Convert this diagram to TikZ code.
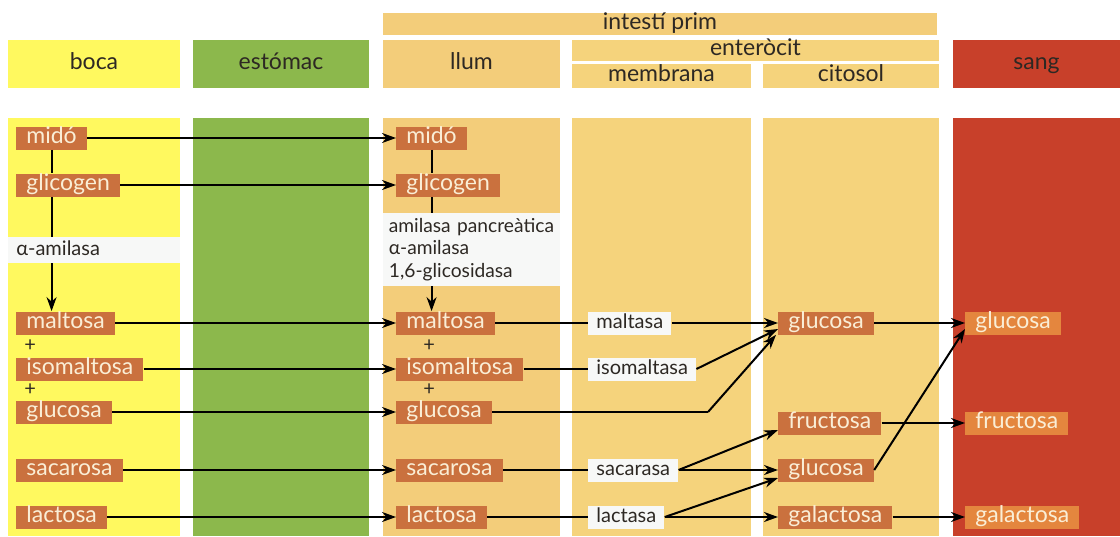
\documentclass[tikz,border=0pt]{standalone}
\usepackage{fontspec}
\setmainfont{Lato}
\usetikzlibrary{arrows.meta, positioning, calc}

\definecolor{bocacol}{RGB}{255,249,95}
\definecolor{estcol}{RGB}{140,184,76}
\definecolor{llumcol}{RGB}{243,205,122}
\definecolor{entcol}{RGB}{245,211,124}
\definecolor{sangcol}{RGB}{200,64,42}
\definecolor{boxcol}{RGB}{202,113,62}
\definecolor{sangbox}{RGB}{228,134,62}
\definecolor{boxtext}{RGB}{250,238,214}
\definecolor{hdrtext}{RGB}{45,40,35}
\definecolor{stripcol}{RGB}{247,248,247}

\begin{document}
\begin{tikzpicture}[
    x=0.5pt, y=-0.5pt,
    hdr/.style={rectangle, inner sep=0pt, text=hdrtext, text height=8pt, text depth=2.5pt,
        font=\fontsize{11.5}{13}\selectfont},
    sugar/.style={rectangle, fill=boxcol, text=boxtext, anchor=west, inner xsep=5pt, inner ysep=0pt,
        minimum height=11.5pt, text height=8pt, text depth=2.5pt, font=\fontsize{11.5}{13}\selectfont},
    enz/.style={rectangle, fill=stripcol, text=hdrtext, anchor=west, inner xsep=4pt, inner ysep=0pt,
        minimum height=11.5pt, text height=7pt, text depth=2pt, font=\fontsize{10}{12}\selectfont},
    arrow/.style={-{Stealth[length=7pt,width=5pt]}, line width=1pt},
    link/.style={line width=1pt}
]
\useasboundingbox (0,0) rectangle (1120,536);
\fill[white] (0,0) rectangle (1120,536);

% Columns
\fill[bocacol] (8,118) rectangle (180,536);
\fill[estcol] (193,118) rectangle (369,536);
\fill[llumcol] (383,118) rectangle (560,536);
\fill[entcol] (572,118) rectangle (751,536);
\fill[entcol] (763,118) rectangle (939,536);
\fill[sangcol] (953,118) rectangle (1120,536);

% Headers
\node[hdr, fill=llumcol, minimum width=277pt, minimum height=11pt] (intes) at (660,24) {intestí prim};
\node[hdr, fill=bocacol, minimum width=86pt, minimum height=24pt] (boca) at (94,64) {boca};
\node[hdr, fill=estcol, minimum width=88pt, minimum height=24pt] (estom) at (281,64) {estómac};
\node[hdr, fill=llumcol, minimum width=88.5pt, minimum height=24pt] (llum) at (471.5,64) {llum};
\node[hdr, fill=entcol, minimum width=183.5pt, minimum height=10pt] (enter) at (755.5,50) {enteròcit};
\node[hdr, fill=entcol, minimum width=89.5pt, minimum height=12pt] (membr) at (661.5,76) {membrana};
\node[hdr, fill=entcol, minimum width=88pt, minimum height=12pt] (citos) at (851,76) {citosol};
\node[hdr, fill=sangcol, minimum width=83.5pt, minimum height=24pt] (sang) at (1036.5,64) {sang};

% boca
\node[sugar] (bmido) at (16,138) {midó};
\node[sugar] (bglic) at (16,185) {glicogen};
\node[enz, text width=78pt, minimum height=13pt] (bamil) at (8,250) {α-amilasa};
\node[sugar] (bmalt) at (16,323) {maltosa};
\node[hdr, anchor=west, font=\fontsize{10}{12}\selectfont] (bplus1) at (24,346) {+};
\node[sugar] (bisom) at (16,369) {isomaltosa};
\node[hdr, anchor=west, font=\fontsize{10}{12}\selectfont] (bplus2) at (24,390) {+};
\node[sugar] (bgluc) at (16,412) {glucosa};
\node[sugar] (bsac) at (16,470) {sacarosa};
\node[sugar] (blac) at (16,517) {lactosa};

% llum
\node[sugar] (lmido) at (396,138) {midó};
\node[sugar] (lglic) at (396,185) {glicogen};
\node[rectangle, fill=stripcol, text=hdrtext, anchor=north west, inner xsep=2.75pt, inner ysep=2.5pt,
    text width=83pt, align=left, font=\fontsize{9.6}{11.2}\selectfont] (lpanc) at (383,213)
    {\hyphenpenalty=10000\relax amilasa pancreàtica\\α-amilasa\\1,6-glicosidasa};
\node[sugar] (lmalt) at (396,323) {maltosa};
\node[hdr, anchor=west, font=\fontsize{10}{12}\selectfont] (lplus1) at (423,346) {+};
\node[sugar] (lisom) at (396,369) {isomaltosa};
\node[hdr, anchor=west, font=\fontsize{10}{12}\selectfont] (lplus2) at (423,390) {+};
\node[sugar] (lgluc) at (396,412) {glucosa};
\node[sugar] (lsac) at (396,470) {sacarosa};
\node[sugar] (llac) at (396,517) {lactosa};

% membrana
\node[enz] (emalt) at (588,323) {maltasa};
\node[enz] (eisom) at (588,369) {isomaltasa};
\node[enz] (esac) at (588,470) {sacarasa};
\node[enz] (elac) at (588,517) {lactasa};
\coordinate (gbend) at (708,412);

% citosol
\node[sugar] (cgluc) at (778,323) {glucosa};
\node[sugar] (cfruc) at (778,423) {fructosa};
\node[sugar] (cgluc2) at (778,470) {glucosa};
\node[sugar] (cgal) at (778,517) {galactosa};

% sang
\node[sugar, fill=sangbox] (sgluc) at (965,323) {glucosa};
\node[sugar, fill=sangbox] (sfruc) at (965,423) {fructosa};
\node[sugar, fill=sangbox] (sgal) at (965,517) {galactosa};

% Arrows
\draw[link] (bmido.south) -- (bmido.south |- bglic.north);
\draw[link] (bmido.south |- bglic.south) -- (bmido.south |- bamil.north);
\draw[arrow] (bmido.south |- bamil.south) -- (bmido.south |- bmalt.north);
\draw[link] (lmido.south) -- (lmido.south |- lglic.north);
\draw[link] (lmido.south |- lglic.south) -- (lmido.south |- lpanc.north);
\draw[arrow] (lmido.south |- lpanc.south) -- (lmido.south |- lmalt.north);

\draw[arrow] (bmido) -- (lmido);
\draw[arrow] (bglic) -- (lglic);
\draw[arrow] (bmalt) -- (lmalt);
\draw[arrow] (bisom) -- (lisom);
\draw[arrow] (bgluc) -- (lgluc);
\draw[arrow] (bsac) -- (lsac);
\draw[arrow] (blac) -- (llac);

\draw[link] (lmalt) -- (emalt);
\draw[link] (lisom) -- (eisom);
\draw[link] (lgluc) -- (gbend);
\draw[link] (lsac) -- (esac);
\draw[link] (llac) -- (elac);

\draw[arrow] (emalt) -- (cgluc);
\draw[arrow] (eisom.east) -- ($(cgluc.west)+(0,6)$);
\draw[arrow] (gbend) -- ($(cgluc.south west)+(-2,0)$);
\draw[arrow] (esac.east) -- ($(cfruc.west)+(0,7)$);
\draw[arrow] (esac.east) -- (cgluc2.west);
\draw[arrow] (elac.east) -- ($(cgluc2.west)+(0,8)$);
\draw[arrow] (elac.east) -- (cgal.west);

\draw[arrow] (cgluc) -- (sgluc);
\draw[arrow] (cgluc2.east) -- ($(sgluc.west)+(0,6)$);
\draw[arrow] (cfruc) -- (sfruc);
\draw[arrow] (cgal) -- (sgal);

\end{tikzpicture}
\end{document}
